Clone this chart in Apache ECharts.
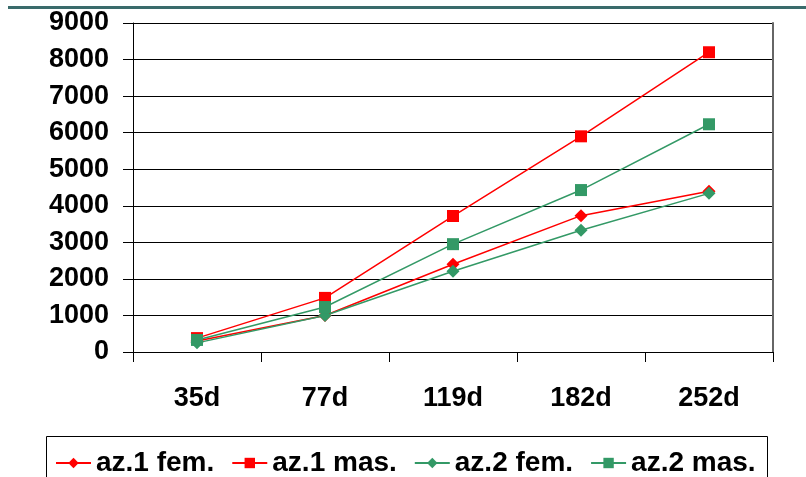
<!DOCTYPE html>
<html>
<head>
<meta charset="utf-8">
<script src="https://cdn.jsdelivr.net/npm/echarts@6/dist/echarts.min.js"></script>
<style>
  html, body { margin: 0; padding: 0; background: #fff; }
  #chart { width: 806px; height: 477px; }
</style>
</head>
<body>
<div id="chart"></div>
<script>
// Sampling days
const categories = ['35d', '77d', '119d', '182d', '252d'];

// Values per group
const az1Fem = [300, 1000, 2400, 3730, 4400];
const az1Mas = [380, 1480, 3720, 5900, 8200];
const az2Fem = [250, 1000, 2210, 3330, 4340];
const az2Mas = [330, 1230, 2950, 4430, 6230];

// Y axis ticks
const yMin = 0;
const yMax = 9000;
const yStep = 1000;

const RED = '#ff0000';
const GREEN = '#339966';
const FONT = '"Liberation Sans", Arial, sans-serif';

function lineSeries(name, data, color, symbol, size) {
  return {
    name: name,
    type: 'line',
    data: data,
    symbol: symbol,
    symbolSize: size,
    showSymbol: true,
    lineStyle: { color: color, width: 1.5 },
    itemStyle: { color: color },
    emphasis: { disabled: true },
    animation: false
  };
}

const chart = echarts.init(document.getElementById('chart'), null, { renderer: 'canvas' });

chart.setOption({
  backgroundColor: '#fff',
  animation: false,
  textStyle: { fontFamily: FONT },
  grid: { left: 133, right: 33, top: 23, bottom: 125, containLabel: false },
  xAxis: {
    type: 'category',
    data: categories,
    boundaryGap: true,
    axisLine: { show: true, lineStyle: { color: '#000', width: 1 } },
    axisTick: { show: true, length: 10, lineStyle: { color: '#000' } },
    axisLabel: { color: '#000', fontSize: 27, fontWeight: 'bold', fontFamily: FONT, margin: 33 },
    splitLine: { show: false }
  },
  yAxis: [{
    type: 'value',
    min: yMin,
    max: yMax,
    interval: yStep,
    axisLine: { show: true, lineStyle: { color: '#000', width: 1 } },
    axisTick: { show: true, length: 10, lineStyle: { color: '#000' } },
    axisLabel: {
      color: '#000', fontSize: 27, fontWeight: 'bold', fontFamily: FONT, margin: 24,
      formatter: function (v) { return String(v); }
    },
    splitLine: { show: true, lineStyle: { color: '#000', width: 1 } }
  }, {
    type: 'value',
    position: 'right',
    min: yMin,
    max: yMax,
    interval: yStep,
    axisLine: { show: true, lineStyle: { color: '#666', width: 2 } },
    axisTick: { show: false },
    axisLabel: { show: false },
    splitLine: { show: false }
  }],
  legend: {
    left: 50,
    top: 444,
    itemWidth: 35,
    itemHeight: 13,
    itemGap: 17,
    textStyle: { color: '#000', fontSize: 28, fontWeight: 'bold', fontFamily: FONT },
    data: ['az.1 fem.', 'az.1 mas.', 'az.2 fem.', 'az.2 mas.']
  },
  graphic: [
    { type: 'rect', shape: { x: 8, y: 6, width: 800, height: 3 }, style: { fill: '#3a6b6b' }, silent: true },
    { type: 'rect', shape: { x: 46.5, y: 436.5, width: 721, height: 60 }, style: { fill: 'none', stroke: '#000', lineWidth: 1 }, silent: true }
  ],
  series: [
    lineSeries('az.1 fem.', az1Fem, RED, 'diamond', 13),
    lineSeries('az.1 mas.', az1Mas, RED, 'rect', 12),
    lineSeries('az.2 fem.', az2Fem, GREEN, 'diamond', 13),
    lineSeries('az.2 mas.', az2Mas, GREEN, 'rect', 12)
  ]
});
</script>
</body>
</html>
